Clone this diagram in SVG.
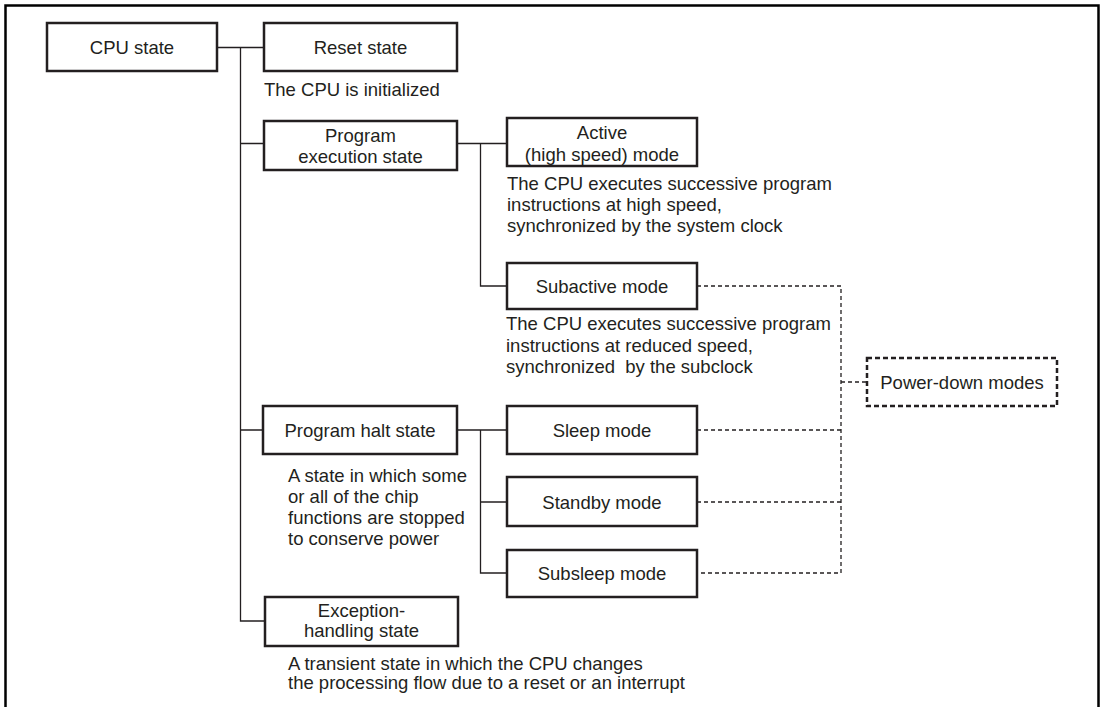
<svg xmlns="http://www.w3.org/2000/svg" width="1103" height="707" viewBox="0 0 1103 707">
<style>
  .box { fill: #fff; stroke: #231f20; stroke-width: 2.5; }
  .pd { fill: #fff; stroke: #231f20; stroke-width: 2.5; stroke-dasharray: 5 3; }
  .ln { fill: none; stroke: #231f20; stroke-width: 1.3; }
  .dl { fill: none; stroke: #231f20; stroke-width: 1.3; stroke-dasharray: 4 3; }
  text { font-family: "Liberation Sans", Arial, sans-serif; font-size: 18.5px; fill: #231f20; }
  .c { text-anchor: middle; }
</style>
<rect width="1103" height="707" fill="#fff"/>
<path d="M5.5 707 V5.5 H1098.5 V707" fill="none" stroke="#000" stroke-width="2.5"/>

<g id="connectors">
  <path class="ln" d="M217 47.5 H264 M240.5 47.5 V621 H265 M240.5 143.5 H264 M240.5 430 H263"/>
  <path class="ln" d="M457 143.5 H507 M480.5 143.5 V286 H507"/>
  <path class="ln" d="M457 430 H507 M480.5 430 V573 H507 M480.5 502 H507"/>
  <path class="dl" d="M697 286 H841 V573 H697 M697 430 H841 M697 502 H841 M841 382 H867"/>
</g>

<g id="cpu-state">
  <rect class="box" x="47" y="23" width="170" height="48"/>
  <text class="c" x="132" y="54">CPU state</text>
</g>
<g id="reset-state">
  <rect class="box" x="264" y="23" width="193" height="48"/>
  <text class="c" x="360.5" y="54">Reset state</text>
  <text x="264" y="95.5">The CPU is initialized</text>
</g>
<g id="program-execution-state">
  <rect class="box" x="264" y="121" width="193" height="49"/>
  <text class="c" x="360.5" y="141.5">Program</text>
  <text class="c" x="360.5" y="162.5">execution state</text>
</g>
<g id="active-mode">
  <rect class="box" x="507" y="118" width="190" height="48"/>
  <text class="c" x="602" y="138.5">Active</text>
  <text class="c" x="602" y="160.5">(high speed) mode</text>
  <text x="507" y="189.5">The CPU executes successive program</text>
  <text x="507" y="210.5">instructions at high speed,</text>
  <text x="507" y="231.5">synchronized by the system clock</text>
</g>
<g id="subactive-mode">
  <rect class="box" x="507" y="263" width="190" height="46"/>
  <text class="c" x="602" y="292.5">Subactive mode</text>
  <text x="506" y="330" xml:space="preserve">The CPU executes successive program</text>
  <text x="506" y="351.5" xml:space="preserve">instructions at reduced speed,</text>
  <text x="506" y="373" xml:space="preserve">synchronized  by the subclock</text>
</g>
<g id="program-halt-state">
  <rect class="box" x="263" y="406" width="194" height="48"/>
  <text class="c" x="360" y="436.5">Program halt state</text>
  <text x="288" y="481.5">A state in which some</text>
  <text x="288" y="502.5">or all of the chip</text>
  <text x="288" y="523.5">functions are stopped</text>
  <text x="288" y="544.5">to conserve power</text>
</g>
<g id="sleep-mode">
  <rect class="box" x="507" y="406" width="190" height="48"/>
  <text class="c" x="602" y="436.5">Sleep mode</text>
</g>
<g id="standby-mode">
  <rect class="box" x="507" y="477" width="190" height="49"/>
  <text class="c" x="602" y="508.5">Standby mode</text>
</g>
<g id="subsleep-mode">
  <rect class="box" x="507" y="550" width="190" height="47"/>
  <text class="c" x="602" y="579.5">Subsleep mode</text>
</g>
<g id="exception-handling-state">
  <rect class="box" x="265" y="597" width="193" height="49"/>
  <text class="c" x="361.5" y="616.5">Exception-</text>
  <text class="c" x="361.5" y="636.5">handling state</text>
  <text x="288" y="669.5">A transient state in which the CPU changes</text>
  <text x="288" y="689">the processing flow due to a reset or an interrupt</text>
</g>
<g id="power-down-modes">
  <rect class="pd" x="867" y="358" width="190" height="48"/>
  <text class="c" x="962" y="388.5">Power-down modes</text>
</g>
</svg>
